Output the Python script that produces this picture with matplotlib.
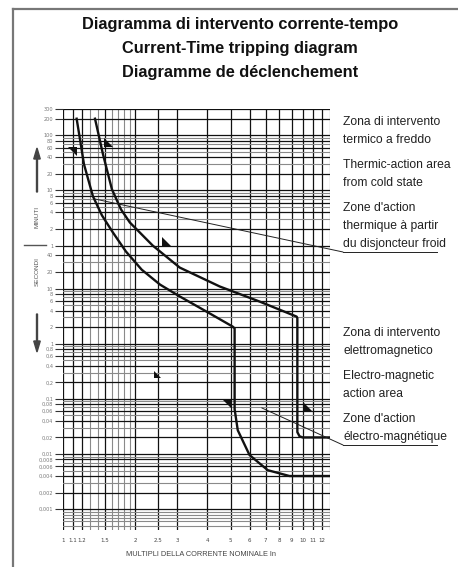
import numpy as np
import matplotlib
matplotlib.use("Agg")
import matplotlib.pyplot as plt
from matplotlib.patches import Polygon, ConnectionPatch, FancyArrow
from matplotlib.lines import Line2D

# ---------------- data ----------------
title_lines = ["Diagramma di intervento corrente-tempo",
               "Current-Time tripping diagram",
               "Diagramme de déclenchement"]

x_ticks = [1, 1.1, 1.2, 1.5, 2, 2.5, 3, 4, 5, 6, 7, 8, 9, 10, 11, 12]
x_tick_labels = ["1", "1.1", "1.2", "1.5", "2", "2.5", "3", "4", "5", "6",
                 "7", "8", "9", "10", "11", "12"]
x_grid_extra = [1.3, 1.4, 1.6, 1.7, 1.8, 1.9, 13]

minute_ticks = [300, 200, 100, 80, 60, 40, 20, 10, 8, 6, 4, 2, 1]
second_ticks = [40, 20, 10, 8, 6, 4, 2, 1, 0.8, 0.6, 0.4, 0.2, 0.1,
                0.08, 0.06, 0.04, 0.02, 0.01, 0.008, 0.006, 0.004,
                0.002, 0.001]
second_tick_labels = ["40", "20", "10", "8", "6", "4", "2", "1", "0,8", "0,6",
                      "0,4", "0,2", "0,1", "0,08", "0,06", "0,04", "0,02",
                      "0,01", "0,008", "0,006", "0,004", "0,002", "0,001"]

# lower (left) tripping curve: multiples of In, time in seconds
lower_I = [1.14, 1.177, 1.223, 1.333, 1.454, 1.615, 1.83, 2.13, 2.54, 3.07,
           3.98, 5.1, 5.2, 5.2, 5.36, 6.0, 7.15, 8.8, 13]
lower_t = [12000, 5120, 1800, 471, 212, 104, 47, 22, 11.8, 7.2,
           3.8, 2.05, 1.9, 0.065, 0.027, 0.0096, 0.0051, 0.004, 0.004]

# upper (right) tripping curve
upper_I = [1.36, 1.468, 1.6, 1.745, 1.9, 2.37, 3.07, 4.51, 6.62, 9.44,
           9.5, 9.5, 9.7, 10.0, 13]
upper_t = [12000, 2730, 630, 273, 158, 60, 24, 10.9, 5.8, 3.1,
           2.9, 0.025, 0.021, 0.02, 0.02]

right_labels_top = [("Zona di intervento", 122), ("termico a freddo", 140),
                    ("Thermic-action area", 165), ("from cold state", 183),
                    ("Zone d'action", 208), ("thermique à partir", 226),
                    ("du disjoncteur froid", 244)]
right_labels_bot = [("Zona di intervento", 333), ("elettromagnetico", 351),
                    ("Electro-magnetic", 376), ("action area", 394),
                    ("Zone d'action", 419), ("électro-magnétique", 437)]

# ---------------- figure ----------------
W, H = 458, 567
fig = plt.figure(figsize=(W / 100, H / 100), dpi=100)
fig.patch.set_facecolor("white")

def fx(px):
    return px / W

def fy(py):
    return 1 - py / H

ax_l, ax_r, ax_t, ax_b = 63, 330, 109, 530
ax = fig.add_axes([fx(ax_l), fy(ax_b), (ax_r - ax_l) / W, (ax_b - ax_t) / H])
ax.set_xscale("log")
ax.set_yscale("log")
ax.set_xlim(1, 13)
ax.set_ylim(0.00042, 18000)
for s in ax.spines.values():
    s.set_visible(False)

black = "#111111"
grey = "#8a8a8a"

# vertical grid
for v in x_ticks:
    ax.axvline(v, color=black, lw=0.9, zorder=1)
for v in x_grid_extra:
    ax.axvline(v, color=grey if v != 13 else black, lw=0.8, zorder=1)

# horizontal grid - seconds region
for dec in [0.0001, 0.001, 0.01, 0.1, 1, 10]:
    for m in range(1, 10):
        val = m * dec
        if val < 0.0005 or val > 40:
            continue
        lab = any(abs(val - s) / s < 1e-6 for s in second_ticks)
        ax.axhline(val, color=black if lab else grey, lw=0.9 if lab else 0.8, zorder=1)
# horizontal grid - minutes region
for dec in [1, 10, 100]:
    for m in range(1, 10):
        val = m * dec
        if val > 300:
            continue
        lab = val in minute_ticks
        ax.axhline(val * 60, color=black if lab else grey, lw=0.9 if lab else 0.8, zorder=1)

# curves
ax.plot(lower_I, lower_t, color=black, lw=1.7, zorder=3, solid_joinstyle="round")
ax.plot(upper_I, upper_t, color=black, lw=1.7, zorder=3, solid_joinstyle="round")

# ticks
ax.set_xticks(x_ticks)
ax.set_xticklabels(x_tick_labels)
ax.xaxis.set_minor_locator(matplotlib.ticker.NullLocator())
ax.tick_params(axis="x", length=0, pad=6, labelsize=4.0, labelcolor="#444444")

yt = [m * 60 for m in minute_ticks] + second_ticks
ytl = [str(m) for m in minute_ticks] + second_tick_labels
ax.set_yticks(yt)
ax.set_yticklabels(ytl)
ax.yaxis.set_minor_locator(matplotlib.ticker.NullLocator())
ax.tick_params(axis="y", length=6, width=0.8, color="#333333", pad=1,
               labelsize=3.6, labelcolor="#777777")

# frame of the sheet
fig.add_artist(Line2D([fx(13), fx(13)], [fy(9), fy(567)], color="#777777", lw=1.6))
fig.add_artist(Line2D([fx(13), fx(458)], [fy(9), fy(9)], color="#777777", lw=1.6))

# title
for txt, py in zip(title_lines, [25, 49, 73]):
    fig.text(fx(240), fy(py), txt, ha="center", va="center", fontsize=11.8,
             fontweight="bold", family=["Liberation Sans", "DejaVu Sans"], color="#111111")

# right side labels
sans = ["Liberation Sans", "DejaVu Sans"]
for txt, py in right_labels_top + right_labels_bot:
    fig.text(fx(343), fy(py), txt, ha="left", va="center", fontsize=8.7,
             family=sans, color="#222222")

# leader lines
for (sI, st), (ex, ey), ux in [((1.36, 420), (343, 252), 437),
                               ((6.75, 0.0686), (343, 445), 437)]:
    cp = ConnectionPatch(xyA=(sI, st), coordsA=ax.transData,
                         xyB=(fx(ex), fy(ey)), coordsB=fig.transFigure,
                         color="#222222", lw=0.7, zorder=4)
    fig.add_artist(cp)
    fig.add_artist(Line2D([fx(ex), fx(ux)], [fy(ey), fy(ey)], color="#222222", lw=0.7))

# small triangular markers
tris = [[(68, 147), (77, 147), (77, 156)],
        [(104, 138), (104, 147), (113, 147)],
        [(162, 237), (162, 247), (172, 247)],
        [(154, 371), (154, 378), (161, 378)],
        [(223, 400), (232, 400), (232, 409)],
        [(303, 402), (303, 411), (312, 411)]]
for tri in tris:
    fig.add_artist(Polygon([(fx(a), fy(b)) for a, b in tri], closed=True,
                           facecolor="#111111", edgecolor="none", zorder=5))

# axis side labels and arrows
fig.text(fx(37), fy(217), "MINUTI", rotation=90, ha="center", va="center",
         fontsize=4.6, color="#555555", family=sans)
fig.text(fx(37), fy(272), "SECONDI", rotation=90, ha="center", va="center",
         fontsize=4.6, color="#555555", family=sans)
fig.add_artist(Line2D([fx(24), fx(46)], [fy(245), fy(245)], color="#555555", lw=1.0))
arrow_up = FancyArrow(fx(37), fy(192), 0, (192 - 148) / H, width=1.2 / H,
                      head_width=6.5 / W, head_length=11 / H,
                      length_includes_head=True, color="#444444",
                      transform=fig.transFigure)
arrow_dn = FancyArrow(fx(37), fy(314), 0, -(352 - 314) / H, width=1.2 / H,
                      head_width=6.5 / W, head_length=11 / H,
                      length_includes_head=True, color="#444444",
                      transform=fig.transFigure)
fig.add_artist(arrow_up)
fig.add_artist(arrow_dn)

fig.text(fx(201), fy(554), "MULTIPLI DELLA CORRENTE NOMINALE In", ha="center",
         va="center", fontsize=5.3, color="#444444", family=sans)

fig.savefig("out.png", dpi=100)
